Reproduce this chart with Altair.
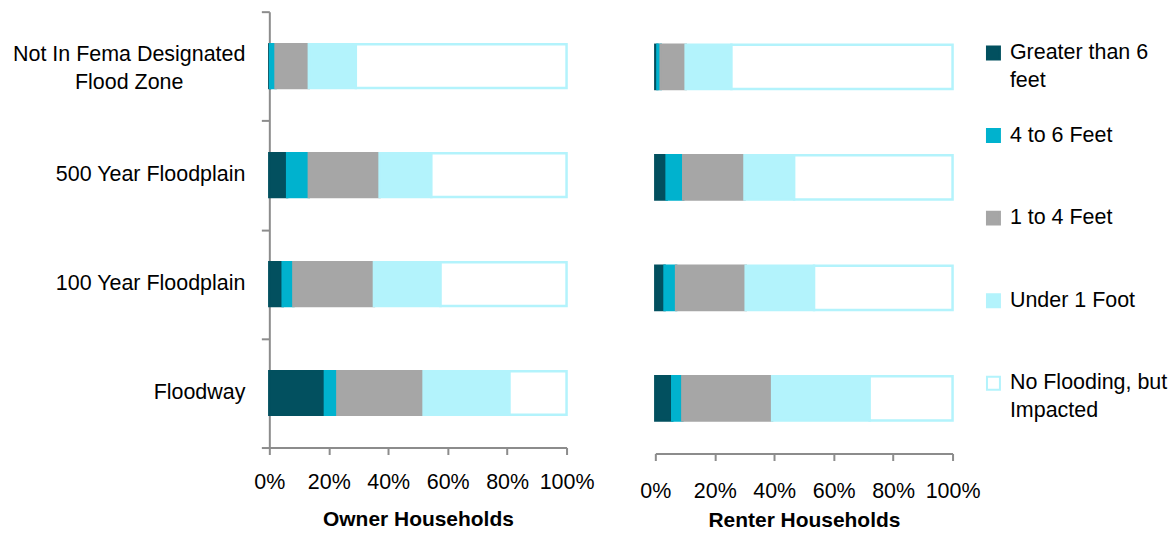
import altair as alt
import pandas as pd

zones = ["Not In Fema Designated Flood Zone", "500 Year Floodplain", "100 Year Floodplain", "Floodway"]
depths = ["Greater than 6 feet", "4 to 6 Feet", "1 to 4 Feet", "Under 1 Foot", "No Flooding, but Impacted"]

# percent of households per depth class, one list per zone (order of `depths`)
owner_not_fema = [0.3, 1.8, 11.2, 15.8, 70.9]
owner_500yr = [6.0, 7.3, 23.8, 17.4, 45.5]
owner_100yr = [4.5, 3.6, 27.1, 22.4, 42.4]
owner_floodway = [18.7, 4.2, 29.0, 28.9, 19.2]

renter_not_fema = [0.7, 1.1, 8.4, 15.4, 74.4]
renter_500yr = [3.8, 5.6, 20.6, 16.7, 53.3]
renter_100yr = [3.1, 3.9, 23.4, 23.0, 46.6]
renter_floodway = [5.7, 3.4, 30.2, 32.8, 27.9]

fill_colors = ["#02505F", "#00B2CE", "#A6A6A6", "#B3F3FC", "#FFFFFF"]
stroke_colors = ["#02505F", "#00B2CE", "#A6A6A6", "#B3F3FC", "#B3F3FC"]

# how long labels wrap onto two lines
wrap = {"Greater than 6 feet": "Greater than 6\nfeet",
        "No Flooding, but Impacted": "No Flooding, but\nImpacted",
        "Not In Fema Designated Flood Zone": "Not In Fema Designated\nFlood Zone"}

FONT = "Liberation Sans"
AXIS_GRAY = "#8C8C8C"
FS = 21.5


def build(rows):
    recs = []
    for zone, vals in zip(zones, rows):
        for i, (d, v) in enumerate(zip(depths, vals)):
            recs.append({"zone": zone, "depth": d, "value": v, "order": i})
    return pd.DataFrame(recs)


owner_df = build([owner_not_fema, owner_500yr, owner_100yr, owner_floodway])
renter_df = build([renter_not_fema, renter_500yr, renter_100yr, renter_floodway])

fill_scale = alt.Scale(domain=depths, range=fill_colors)
stroke_scale = alt.Scale(domain=depths, range=stroke_colors)

y_scale = alt.Scale(paddingInner=0, paddingOuter=0)

owner_yaxis = alt.Axis(
    title=None,
    labels=False,
    domainColor=AXIS_GRAY,
    domainWidth=2,
    tickColor=AXIS_GRAY,
    tickWidth=2,
    tickSize=8,
    tickBand="extent",
)


def bars(df, title, label_pad, title_pad, yaxis):
    return alt.Chart(df).mark_bar(height={"band": 0.40}, strokeWidth=2.5).encode(
        x=alt.X(
            "value:Q",
            stack="normalize",
            scale=alt.Scale(domain=[0, 1], nice=False),
            axis=alt.Axis(
                title=title,
                format=".0%",
                values=[0, 0.2, 0.4, 0.6, 0.8, 1.0],
                grid=False,
                domainColor=AXIS_GRAY,
                domainWidth=2,
                tickColor=AXIS_GRAY,
                tickWidth=2,
                tickSize=7,
                labelFontSize=FS,
                labelFont=FONT,
                labelColor="black",
                labelPadding=label_pad,
                labelFlush=False,
                titleFont=FONT,
                titleFontSize=21,
                titleFontWeight="bold",
                titleColor="black",
                titlePadding=title_pad,
            ),
        ),
        y=alt.Y("zone:N", sort=zones, scale=y_scale, axis=yaxis),
        fill=alt.Fill("depth:N", scale=fill_scale, sort=depths, legend=None),
        stroke=alt.Stroke("depth:N", scale=stroke_scale, sort=depths, legend=None),
        order=alt.Order("order:Q", sort="ascending"),
    )


# category labels of the owner panel (right-aligned, the wrapped one centred as a block)
zone_df = pd.DataFrame({"zone": zones})
zone_df["label"] = [wrap.get(z, z) for z in zones]
zone_df["wrapped"] = [z in wrap for z in zones]

zone_single = alt.Chart(zone_df).transform_filter("!datum.wrapped").mark_text(
    align="right", baseline="middle", fontSize=FS, font=FONT, color="black"
).encode(y=alt.Y("zone:N", sort=zones, scale=y_scale, axis=owner_yaxis), x=alt.value(-24), text="label:N")

zone_double = alt.Chart(zone_df).transform_filter("datum.wrapped").mark_text(
    align="center", baseline="middle", fontSize=FS, font=FONT, color="black",
    lineBreak="\n", lineHeight=28, dy=-11
).encode(y=alt.Y("zone:N", sort=zones, scale=y_scale, axis=owner_yaxis), x=alt.value(-140.5), text="label:N")

owner = alt.layer(
    bars(owner_df, "Owner Households", 17, 16, owner_yaxis), zone_single, zone_double
).properties(width=298, height=437)

renter = bars(renter_df, "Renter Households", 20, 8, None).properties(width=298, height=443)

# legend drawn as its own small panel (uniform row spacing like the original)
legend_df = pd.DataFrame({"depth": depths})
legend_df["label"] = [wrap.get(d, d) for d in depths]
leg_base = alt.Chart(legend_df).encode(
    y=alt.Y("depth:N", sort=depths, axis=None, scale=alt.Scale(paddingInner=0, paddingOuter=0))
)
leg_sq = leg_base.mark_square(size=169, strokeWidth=2, opacity=1).encode(
    x=alt.value(8),
    fill=alt.Fill("depth:N", scale=fill_scale, legend=None),
    stroke=alt.Stroke("depth:N", scale=stroke_scale, legend=None),
)
leg_txt = leg_base.mark_text(
    align="left", baseline="middle", fontSize=FS, font=FONT, color="black", lineBreak="\n", lineHeight=28
).encode(x=alt.value(24.5), text="label:N")
legend_panel = alt.layer(leg_sq, leg_txt).properties(width=150, height=414)

plots = alt.hconcat(owner, renter, spacing=45).resolve_scale(x="independent", y="independent")

chart = alt.hconcat(plots, legend_panel, spacing=2).resolve_scale(
    x="independent", y="independent"
).properties(
    padding={"left": 4, "top": 2, "right": 0, "bottom": 0}
).configure(font=FONT, view=alt.ViewConfig(stroke=None))

chart.save("out.html", embed_options={"renderer": "svg", "actions": False})
